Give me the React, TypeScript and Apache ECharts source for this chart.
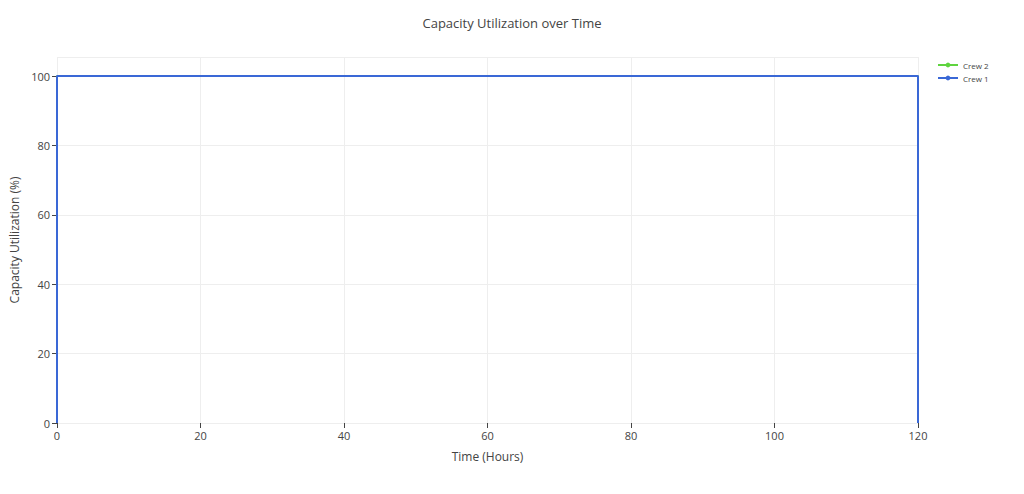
import React, { useEffect, useRef } from "react";
import * as echarts from "echarts";

// hours and utilisation values
const hours = [0, 0, 120, 120];
const crew1 = [0, 100, 100, 0];
const crew2 = [0, 100, 100, 0];
const xTicks = [0, 20, 40, 60, 80, 100, 120];

const FONT = "Open Sans";

const App = () => {
  const chartRef = useRef<HTMLDivElement>(null);

  useEffect(() => {
    const myChart = echarts.init(chartRef.current!, undefined, { renderer: "svg" });
    const option = {
      animation: false,
      backgroundColor: "#fff",
      textStyle: { fontFamily: FONT },
      title: {
        text: "Capacity Utilization over Time",
        left: "center",
        top: 11,
        textStyle: { color: "#444", fontSize: 13, fontWeight: "normal", fontFamily: FONT },
      },
      legend: {
        orient: "vertical",
        left: 932,
        top: 56,
        itemWidth: 20,
        itemHeight: 6,
        itemGap: 5,
        textStyle: { color: "#444", fontSize: 8, fontFamily: FONT },
        data: ["Crew 2", "Crew 1"],
      },
      grid: { left: 57, right: 106, top: 57, bottom: 71, outerBoundsMode: "none" },
      xAxis: {
        type: "value",
        min: 0,
        max: 120,
        interval: 20,
        name: "Time (Hours)",
        nameLocation: "middle",
        nameGap: 27,
        nameTextStyle: { color: "#444", fontSize: 12, fontFamily: FONT },
        axisLine: { show: false },
        axisTick: { show: true, length: 5, lineStyle: { color: "#444" } },
        axisLabel: {
          color: "#444",
          fontSize: 11,
          fontFamily: FONT,
          margin: 7,
          formatter: (v: number) => (xTicks.includes(v) ? String(v) : ""),
        },
        splitLine: { show: true, lineStyle: { color: "#eee", width: 1 } },
      },
      yAxis: {
        type: "value",
        min: 0,
        max: 105.5,
        interval: 20,
        name: "Capacity Utilization (%)",
        nameLocation: "middle",
        nameGap: 36,
        nameRotate: 90,
        nameTextStyle: { color: "#444", fontSize: 12, fontFamily: FONT },
        axisLine: { show: false },
        axisTick: { show: true, length: 5, lineStyle: { color: "#444" } },
        axisLabel: {
          color: "#444",
          fontSize: 11,
          fontFamily: FONT,
          margin: 7,
          showMaxLabel: false,
        },
        splitLine: { show: true, lineStyle: { color: "#eee", width: 1 } },
      },
      series: [
        {
          name: "Crew 2",
          type: "line",
          data: hours.map((h, i) => [h, crew2[i]]),
          symbol: "circle",
          symbolSize: 4,
          showSymbol: false,
          color: "#5fd43f",
          lineStyle: { width: 2, color: "#5fd43f" },
        },
        {
          name: "Crew 1",
          type: "line",
          data: hours.map((h, i) => [h, crew1[i]]),
          symbol: "circle",
          symbolSize: 4,
          showSymbol: false,
          color: "#3a68d6",
          lineStyle: { width: 2, color: "#3a68d6" },
        },
      ],
    };
    myChart.setOption(option);

    return () => {
      myChart.dispose();
    };
  }, []);

  return <div ref={chartRef} style={{ width: 1024, height: 494, margin: -8 }}></div>;
};

export default App;
